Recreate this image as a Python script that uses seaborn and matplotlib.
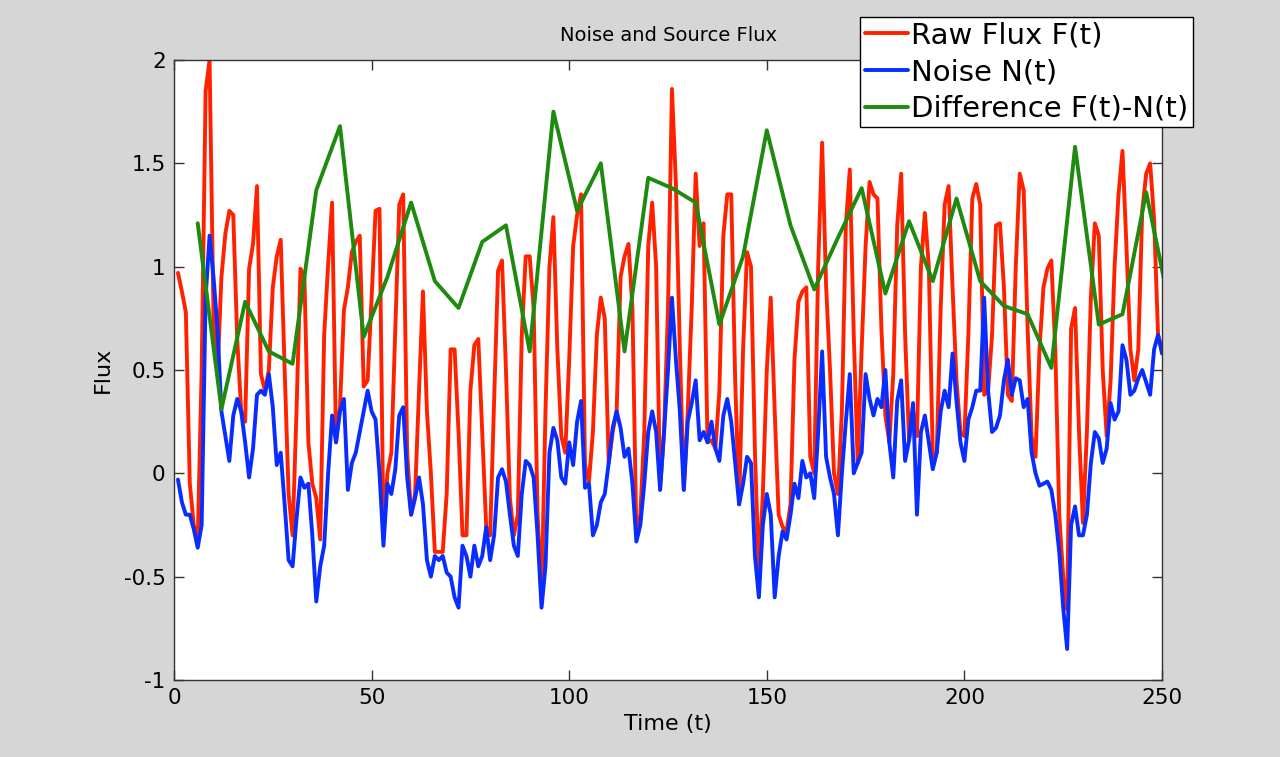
import numpy as np
import pandas as pd
import seaborn as sns
import matplotlib.pyplot as plt

# valores
time = np.arange(1, 251)

raw_flux = [
    0.97, 0.88, 0.78, -0.05, -0.25, -0.33, 0.50, 1.85, 2.00, 0.75,
    0.48, 0.95, 1.16, 1.27, 1.25, 0.65, 0.30, 0.25, 0.99, 1.11,
    1.39, 0.48, 0.40, 0.50, 0.90, 1.05, 1.13, 0.50, -0.10, -0.30,
    0.30, 0.99, 0.95, 0.15, -0.05, -0.12, -0.32, 0.67, 1.01, 1.31,
    0.15, 0.32, 0.79, 0.90, 1.07, 1.12, 1.15, 0.42, 0.45, 0.85,
    1.27, 1.28, -0.30, 0.00, 0.10, 0.70, 1.30, 1.35, 0.10, -0.20,
    -0.10, 0.40, 0.88, 0.30, 0.00, -0.38, -0.38, -0.38, -0.10, 0.60,
    0.60, 0.20, -0.30, -0.30, 0.40, 0.62, 0.65, 0.20, -0.26, -0.30,
    0.35, 0.98, 1.03, 0.50, -0.12, -0.30, -0.20, 0.67, 1.05, 1.05,
    0.80, -0.20, -0.60, 0.30, 1.00, 1.24, 0.60, 0.18, 0.10, 0.55,
    1.10, 1.25, 1.35, 0.04, -0.04, 0.20, 0.67, 0.85, 0.75, 0.05,
    0.20, 0.30, 0.95, 1.05, 1.11, 0.80, -0.30, -0.20, 0.20, 1.10,
    1.31, 1.00, -0.08, 0.20, 0.80, 1.86, 1.40, 0.60, -0.08, 0.30,
    0.80, 1.45, 1.10, 1.21, 0.15, 0.16, 0.12, 0.40, 1.15, 1.35,
    1.35, 0.45, -0.15, 0.60, 1.07, 1.00, 0.10, -0.48, -0.10, 0.50,
    0.85, 0.30, -0.20, -0.26, -0.28, -0.15, 0.55, 0.83, 0.88, 0.90,
    0.08, 0.00, 1.00, 1.60, 0.91, 0.50, 0.00, -0.10, 0.30, 1.20,
    1.47, 0.67, 0.05, 0.60, 1.10, 1.41, 1.35, 1.33, 0.70, 0.28,
    0.15, 0.48, 1.20, 1.45, 0.67, 0.16, 0.30, 0.18, 1.00, 1.26,
    1.00, 0.08, 0.10, 0.80, 1.30, 1.39, 0.90, 0.45, 0.20, 0.18,
    0.67, 1.33, 1.40, 1.30, 0.38, 0.40, 0.67, 1.20, 1.21, 0.90,
    0.38, 0.35, 1.00, 1.45, 1.37, 0.70, 0.18, 0.08, 0.60, 0.90,
    0.99, 1.03, 0.60, -0.20, -0.50, -0.66, 0.70, 0.80, 0.20, -0.24,
    0.20, 0.85, 1.21, 1.15, 0.50, 0.18, 0.45, 1.00, 1.35, 1.56,
    1.10, 0.60, 0.45, 0.60, 1.27, 1.45, 1.50, 1.23, 0.67, 0.60,
]

noise = [
    -0.03, -0.14, -0.20, -0.20, -0.27, -0.36, -0.25, 0.85, 1.15, 0.95,
    0.70, 0.30, 0.18, 0.06, 0.28, 0.36, 0.30, 0.15, -0.02, 0.12,
    0.38, 0.40, 0.38, 0.48, 0.32, 0.04, 0.10, -0.15, -0.42, -0.45,
    -0.22, -0.02, -0.07, -0.05, -0.30, -0.62, -0.45, -0.35, 0.00, 0.28,
    0.15, 0.30, 0.36, -0.08, 0.05, 0.10, 0.20, 0.30, 0.40, 0.30,
    0.26, 0.00, -0.35, -0.05, -0.10, 0.02, 0.28, 0.32, -0.02, -0.20,
    -0.12, -0.02, -0.15, -0.42, -0.50, -0.40, -0.42, -0.40, -0.48, -0.50,
    -0.60, -0.65, -0.35, -0.40, -0.50, -0.35, -0.45, -0.40, -0.26, -0.42,
    -0.30, -0.02, 0.02, -0.04, -0.20, -0.35, -0.40, -0.10, 0.06, 0.04,
    -0.02, -0.30, -0.65, -0.45, 0.10, 0.22, 0.16, -0.02, -0.05, 0.15,
    0.04, 0.25, 0.35, -0.07, -0.05, -0.30, -0.25, -0.14, -0.10, 0.05,
    0.22, 0.30, 0.22, 0.08, 0.12, -0.05, -0.33, -0.25, -0.05, 0.20,
    0.30, 0.20, -0.08, 0.20, 0.50, 0.85, 0.55, 0.30, -0.08, 0.25,
    0.34, 0.45, 0.16, 0.20, 0.15, 0.25, 0.12, 0.06, 0.28, 0.36,
    0.25, 0.05, -0.15, -0.05, 0.08, 0.05, -0.40, -0.60, -0.25, -0.10,
    -0.20, -0.60, -0.40, -0.28, -0.32, -0.20, -0.05, -0.12, 0.06, -0.02,
    0.00, -0.12, 0.20, 0.59, 0.08, -0.02, -0.10, -0.30, 0.00, 0.25,
    0.48, 0.00, 0.05, 0.10, 0.48, 0.36, 0.28, 0.36, 0.32, 0.50,
    0.15, -0.02, 0.35, 0.45, 0.06, 0.16, 0.34, -0.20, 0.20, 0.28,
    0.15, 0.02, 0.10, 0.30, 0.40, 0.32, 0.58, 0.35, 0.15, 0.06,
    0.26, 0.32, 0.40, 0.40, 0.85, 0.40, 0.20, 0.22, 0.28, 0.45,
    0.55, 0.38, 0.46, 0.45, 0.32, 0.36, 0.10, 0.00, -0.06, -0.05,
    -0.04, -0.08, -0.20, -0.38, -0.65, -0.85, -0.25, -0.16, -0.30, -0.30,
    -0.20, 0.05, 0.20, 0.17, 0.05, 0.12, 0.34, 0.26, 0.30, 0.62,
    0.55, 0.38, 0.40, 0.46, 0.50, 0.44, 0.38, 0.60, 0.67, 0.58,
]

# diferencia muestreada cada 6 unidades de tiempo
diff_time = np.arange(6, 253, 6)
difference = [
    1.21, 0.31, 0.83, 0.59, 0.53, 1.37, 1.68, 0.66, 0.95, 1.31,
    0.93, 0.80, 1.12, 1.20, 0.59, 1.75, 1.27, 1.50, 0.59, 1.43,
    1.38, 1.31, 0.72, 1.05, 1.66, 1.20, 0.89, 1.14, 1.38, 0.87,
    1.22, 0.93, 1.33, 0.93, 0.81, 0.77, 0.51, 1.58, 0.72, 0.77,
    1.36, 0.80,
]

df = pd.DataFrame({"t": time, "raw": raw_flux, "noise": noise})
df_diff = pd.DataFrame({"t": diff_time, "diff": difference})

sns.set_style("ticks")
plt.rcParams['font.family'] = ['DejaVu Sans']
plt.rcParams['text.color'] = 'black'
plt.rcParams['axes.labelcolor'] = 'black'

fig = plt.figure(figsize=(12.8, 7.57), dpi=100, facecolor="#d6d6d6")
ax = fig.add_axes([174 / 1280, 1 - 680 / 757, 988 / 1280, 620 / 757])
ax.set_facecolor("white")

sns.lineplot(x="t", y="raw", data=df, color="#ff2200", linewidth=2.8, label="Raw Flux F(t)", ax=ax)
sns.lineplot(x="t", y="noise", data=df, color="#0a2dff", linewidth=2.8, label="Noise N(t)", ax=ax)
sns.lineplot(x="t", y="diff", data=df_diff, color="#1f8a10", linewidth=2.8, label="Difference F(t)-N(t)", ax=ax)

ax.set_xlim(0, 250)
ax.set_ylim(-1, 2)
ax.set_xticks([0, 50, 100, 150, 200, 250])
ax.set_yticks([-1, -0.5, 0, 0.5, 1, 1.5, 2])
ax.set_yticklabels(["-1", "-0.5", "0", "0.5", "1", "1.5", "2"])

ax.tick_params(direction="in", length=7, width=1, top=True, right=True,
               labelsize=15.5, colors="#333333", labelcolor="black", pad=6)
for s in ax.spines.values():
    s.set_visible(True)
    s.set_color("#333333")
    s.set_linewidth(1.0)

ax.set_title("Noise and Source Flux", fontsize=14, pad=14, color="black")
ax.set_xlabel("Time (t)", fontsize=16, labelpad=4)
ax.set_ylabel("Flux", fontsize=16, labelpad=8)

leg = ax.legend(loc="upper right", bbox_to_anchor=(1193 / 1280, 1 - 17 / 757),
                bbox_transform=fig.transFigure, fontsize=21, frameon=True,
                fancybox=False, framealpha=1, edgecolor="black",
                borderpad=0.15, borderaxespad=0, handlelength=1.5,
                handletextpad=0.1, labelspacing=0.3)
leg.get_frame().set_linewidth(1.0)
for txt in leg.get_texts():
    txt.set_color("black")

fig.savefig("out.png", dpi=100, facecolor=fig.get_facecolor())
